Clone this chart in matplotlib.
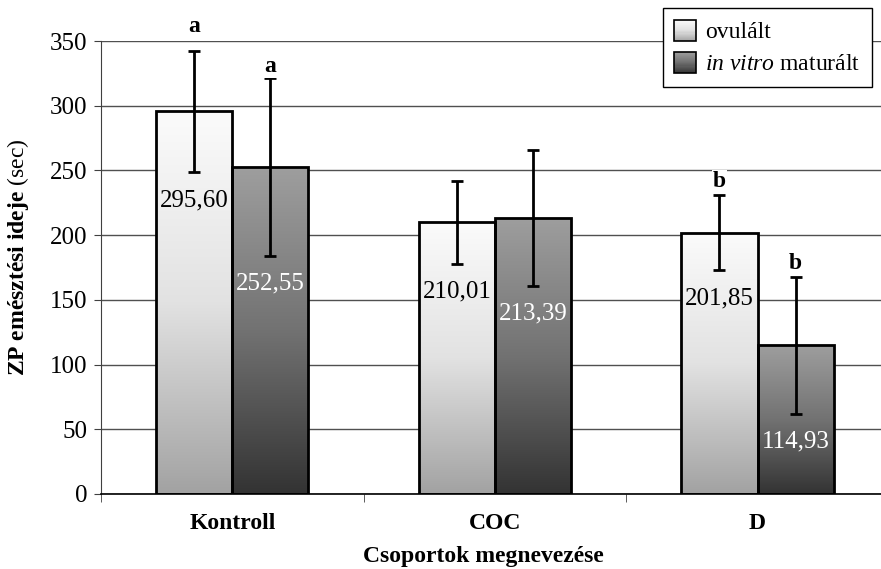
import numpy as np
import matplotlib
matplotlib.use("Agg")
import matplotlib.pyplot as plt
from matplotlib.colors import LinearSegmentedColormap
from matplotlib.legend_handler import HandlerBase
from matplotlib.patches import Rectangle

plt.rcParams['font.family'] = ['Liberation Serif', 'DejaVu Serif']
plt.rcParams['mathtext.fontset'] = 'custom'
plt.rcParams['mathtext.rm'] = 'Liberation Serif'
plt.rcParams['mathtext.it'] = 'Liberation Serif:italic'
plt.rcParams['mathtext.bf'] = 'Liberation Serif:bold'

# data
groups = ['Kontroll', 'COC', 'D']
ovulalt = [295.60, 210.01, 201.85]
ovulalt_err = [47, 32, 29]
invitro = [252.55, 213.39, 114.93]
invitro_err = [68.5, 52.5, 53]
ovulalt_letters = ['a', '', 'b']
invitro_letters = ['a', '', 'b']
series_names = ['ovulált', r'$\mathit{in\ vitro}$ maturált']

cmap_ov = LinearSegmentedColormap.from_list('ov', ['#fbfbfb', '#e2e2e2', '#a2a2a2'])
cmap_iv = LinearSegmentedColormap.from_list('iv', ['#9e9e9e', '#727272', '#333333'])

fig = plt.figure(figsize=(8.81, 5.69), dpi=100)
ax = fig.add_axes([101/881, 75/569, 780/881, 453/569])

x = np.arange(len(groups))
w = 0.29


def gradient_bars(bars, cmap):
    grad = np.linspace(0, 1, 256).reshape(-1, 1)
    for b in bars:
        x0, y0 = b.get_x(), b.get_y()
        im = ax.imshow(grad, cmap=cmap, aspect='auto', origin='upper',
                       extent=[x0, x0 + b.get_width(), y0, y0 + b.get_height()],
                       zorder=1.5)
        im.set_clip_path(b)


bars_ov = ax.bar(x - w/2, ovulalt, w, facecolor='none', edgecolor='black', linewidth=2, zorder=2)
bars_iv = ax.bar(x + w/2, invitro, w, facecolor='none', edgecolor='black', linewidth=2, zorder=2)
gradient_bars(bars_ov, cmap_ov)
gradient_bars(bars_iv, cmap_iv)

ax.errorbar(x - w/2, ovulalt, yerr=ovulalt_err, fmt='none', ecolor='black',
            elinewidth=2, capsize=4.5, capthick=2, zorder=3)
ax.errorbar(x + w/2, invitro, yerr=invitro_err, fmt='none', ecolor='black',
            elinewidth=2, capsize=4.5, capthick=2, zorder=3)

# value labels under lower error cap
for xs, vals, errs, col in [(x - w/2, ovulalt, ovulalt_err, 'black'),
                            (x + w/2, invitro, invitro_err, 'white')]:
    for xi, v, e in zip(xs, vals, errs):
        ax.annotate(f"{v:.2f}".replace('.', ','), (xi, v - e), xytext=(0, -20),
                    textcoords='offset points', ha='center', va='center',
                    fontsize=18, color=col, zorder=4)

# significance letters
letter_off = [[10, 1, 2], [1, 1, 2]]
for k, (xs, vals, errs, lets) in enumerate([(x - w/2, ovulalt, ovulalt_err, ovulalt_letters),
                                            (x + w/2, invitro, invitro_err, invitro_letters)]):
    for j, (xi, v, e, t) in enumerate(zip(xs, vals, errs, lets)):
        if t:
            ax.annotate(t, (xi, v + e), xytext=(0, letter_off[k][j]),
                        textcoords='offset points', ha='center', va='bottom',
                        fontsize=17, fontweight='bold', annotation_clip=False,
                        bbox=dict(facecolor='white', edgecolor='none', pad=1),
                        zorder=4)

ax.set_xlim(-0.5, 2.47)
ax.set_ylim(0, 350)
ax.set_yticks(np.arange(0, 351, 50))
ax.yaxis.grid(True, color='#505050', linewidth=1)
ax.set_axisbelow(True)
for s in ['top', 'right']:
    ax.spines[s].set_visible(False)
ax.spines['left'].set_color('#404040')
ax.spines['bottom'].set_color('black')
ax.spines['bottom'].set_linewidth(1.2)

ax.set_xticks(x)
ax.set_xticklabels(groups, fontsize=17, fontweight='bold')
ax.set_xticks([-0.5, 0.5, 1.5], minor=True)
ax.tick_params(axis='x', which='major', length=0, pad=13.5)
ax.tick_params(axis='x', which='minor', length=6, color='#404040')
ax.tick_params(axis='y', labelsize=18, length=5, color='#404040', pad=5)

ax.set_xlabel('Csoportok megnevezése', fontsize=17, fontweight='bold', va='center')
ax.xaxis.set_label_coords(0.49, -0.139)
ax.set_ylabel(r'$\mathbf{ZP\ emésztési\ ideje}$ (sec)', fontsize=17, va='center')
ax.yaxis.set_label_coords(-0.106, 0.522)


class GradientHandler(HandlerBase):
    def __init__(self, cmap):
        super().__init__()
        self.cmap = cmap

    def create_artists(self, legend, orig_handle, xdescent, ydescent, width,
                       height, fontsize, trans):
        side = min(width, height)
        x0 = -xdescent
        y0 = -ydescent + (height - side) / 2
        n = 20
        arts = []
        for i in range(n):
            c = self.cmap(1 - (i + 0.5) / n)
            arts.append(Rectangle((x0, y0 + side * i / n), side, side / n,
                                  facecolor=c, edgecolor='none', transform=trans))
        arts.append(Rectangle((x0, y0), side, side, facecolor='none',
                              edgecolor='black', linewidth=1.2, transform=trans))
        return arts


h_ov = Rectangle((0, 0), 1, 1)
h_iv = Rectangle((0, 0), 1, 1)
leg = fig.legend([h_ov, h_iv], series_names, loc='upper right',
                 bbox_to_anchor=(872/881, 1 - 8/569),
                 prop=dict(family='Liberation Serif', style='normal', size=17),
                 handler_map={h_ov: GradientHandler(cmap_ov), h_iv: GradientHandler(cmap_iv)},
                 fancybox=False, framealpha=1, edgecolor='black',
                 handlelength=1.0, handleheight=1.0, handletextpad=0.3,
                 labelspacing=0.35, borderpad=0.5, borderaxespad=0)
leg.get_frame().set_linewidth(1)

fig.savefig('out.png', dpi=100)
